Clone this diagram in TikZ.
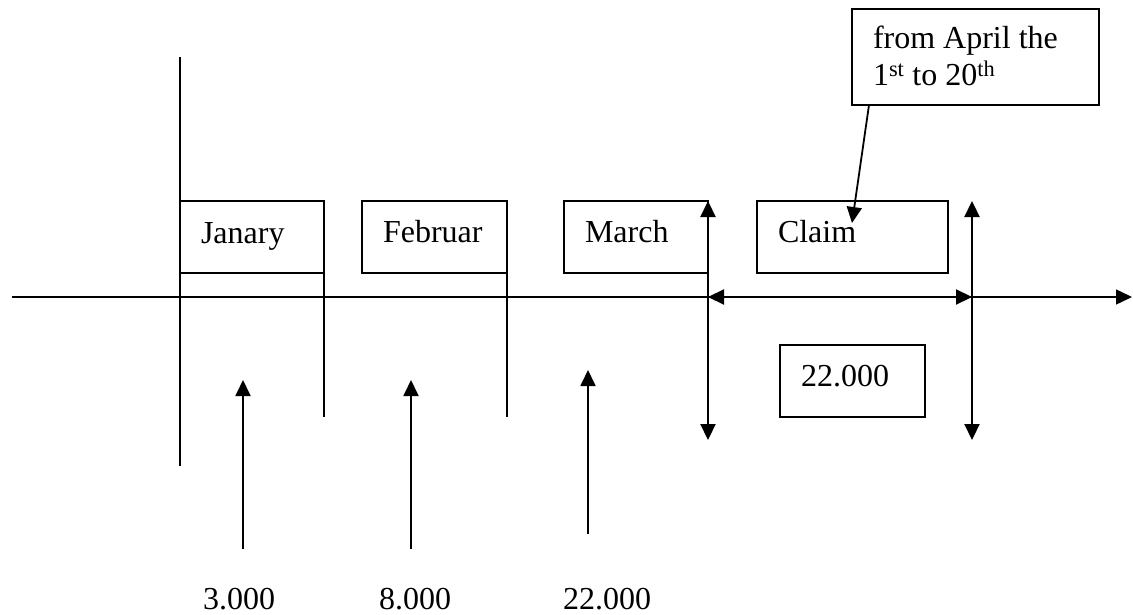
\documentclass[tikz,border=0pt]{standalone}
\usepackage{fontspec}
\setmainfont{Liberation Serif}
\usetikzlibrary{arrows.meta}
\begin{document}
\begin{tikzpicture}[x=1pt,y=-1pt,
  box/.style={draw,line width=1.8pt,inner sep=0pt,outer sep=0pt,anchor=north west},
  txt/.style={inner sep=0pt,outer sep=0pt,anchor=base west,font=\fontsize{32}{37}\selectfont},
  ln/.style={line width=1.8pt},
  tip/.style={line width=1.8pt,-{Triangle[length=16pt,width=15pt]}},
  dtip/.style={line width=2.2pt,{Triangle[length=16pt,width=15pt]}-{Triangle[length=16pt,width=15pt]}}]
\useasboundingbox (0,0) rectangle (1133,615);
% boxes
\node[box,minimum width=144pt,minimum height=72pt] (jan) at (180,201) {};
\node[box,minimum width=145pt,minimum height=72pt] (feb) at (362,201) {};
\node[box,minimum width=144pt,minimum height=72pt] (mar) at (564,201) {};
\node[box,minimum width=191pt,minimum height=72pt] (claim) at (757,201) {};
\node[box,minimum width=145pt,minimum height=72pt] (sum) at (780,345) {};
\node[box,minimum width=247pt,minimum height=96pt] (apr) at (852,9) {};
% texts
\node[txt] (janT) at (201,243) {Janary};
\node[txt] (febT) at (383,242) {Februar};
\node[txt] (marT) at (585,242) {March};
\node[txt] (claimT) at (778,242) {Claim};
\node[txt] (sumT) at (801,386) {22.000};
\node[txt] (aprT1) at (873,49) {from April the};
\node[txt] (aprT2) at (873,86) {1\textsuperscript{st} to 20\textsuperscript{th}};
\node[txt] (v1) at (203,609) {3.000};
\node[txt] (v2) at (379,609) {8.000};
\node[txt] (v3) at (563,609) {22.000};
% coordinates
\coordinate (axL) at (12,297);
\coordinate (axR) at (1132,297);
\coordinate (vTop) at (180,57);
\coordinate (vBot) at (180,466);
\coordinate (janEnd) at (324,417);
\coordinate (febEnd) at (507,417);
\coordinate (d1t) at (708,201);
\coordinate (d1b) at (708,440);
\coordinate (d2t) at (972,201);
\coordinate (d2b) at (972,440);
\coordinate (h1) at (708,297);
\coordinate (h2) at (972,297);
\coordinate (a1b) at (243,549);
\coordinate (a1t) at (243,380);
\coordinate (a2b) at (411,549);
\coordinate (a2t) at (411,380);
\coordinate (a3b) at (588,534);
\coordinate (a3t) at (588,370);
\coordinate (leadS) at (869,105);
\coordinate (leadE) at (852,223);
% lines
\draw[tip,line width=1.5pt] (axL) -- (axR);
\draw[ln] (vTop) -- (vBot);
\draw[ln] (jan.south east) -- (janEnd);
\draw[ln] (feb.south east) -- (febEnd);
\draw[dtip] (d1t) -- (d1b);
\draw[dtip] (d2t) -- (d2b);
\draw[dtip] (h1) -- (h2);
\draw[tip] (a1b) -- (a1t);
\draw[tip] (a2b) -- (a2t);
\draw[tip] (a3b) -- (a3t);
\draw[tip] (leadS) -- (leadE);
\end{tikzpicture}
\end{document}
